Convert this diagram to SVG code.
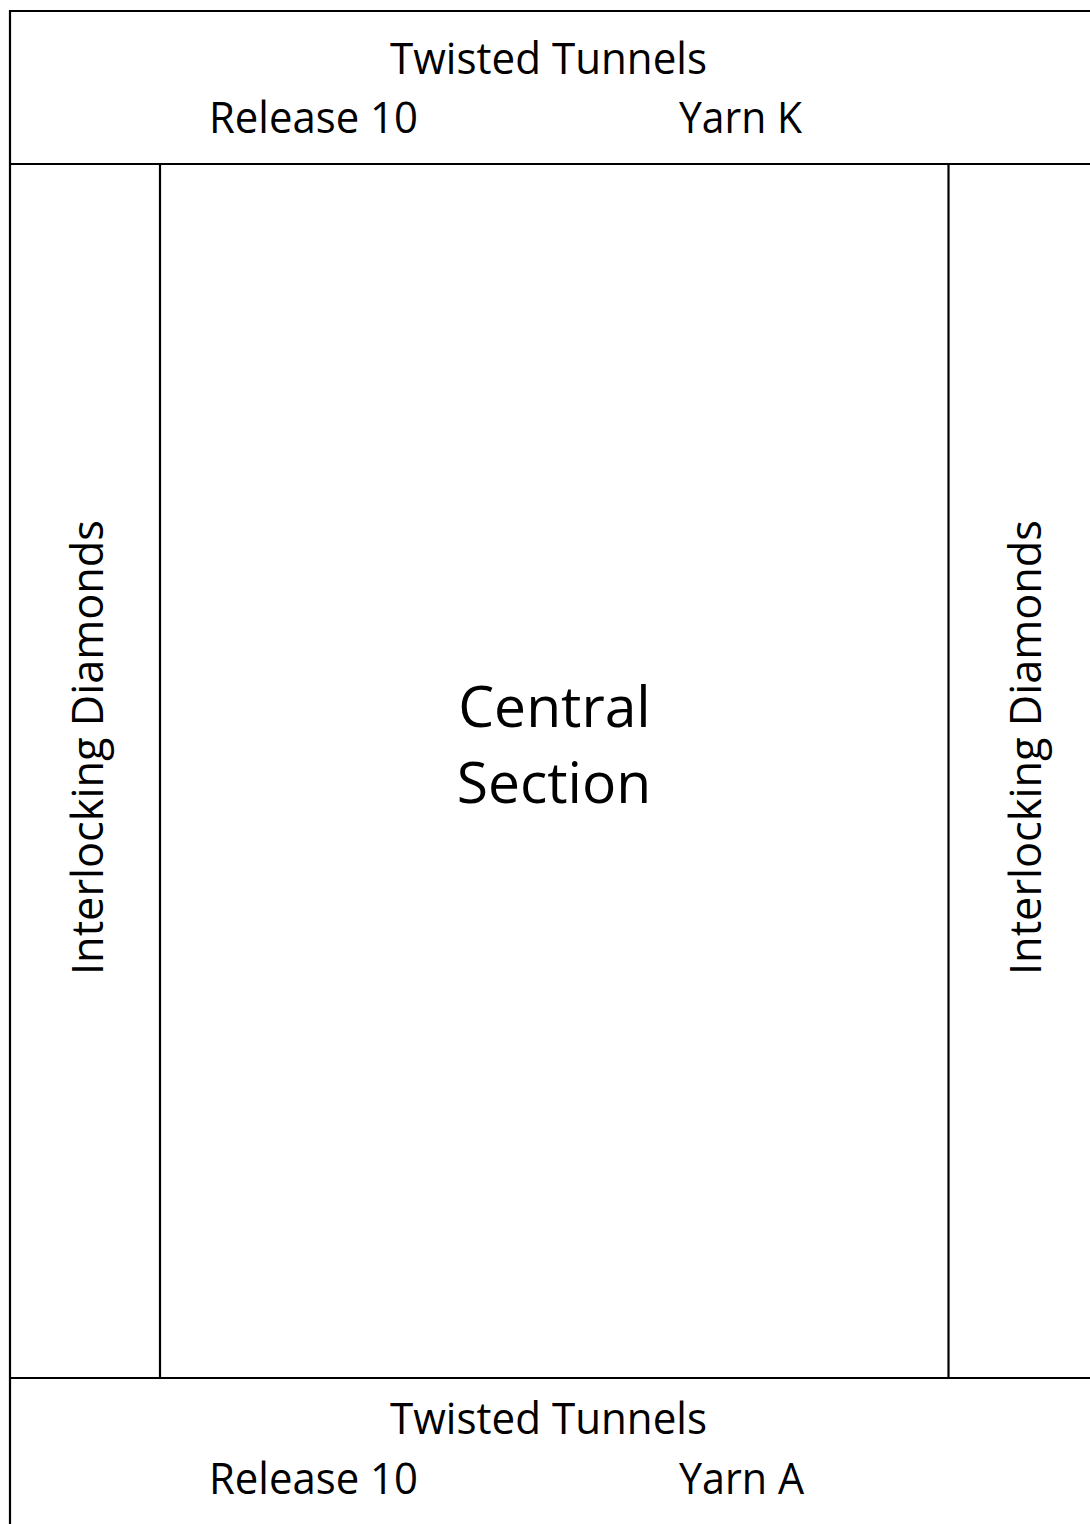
<svg xmlns="http://www.w3.org/2000/svg" width="1090" height="1524" viewBox="0 0 1090 1524">
<style>
.ln{stroke:#000;stroke-width:2.2;fill:none}
.t{font-family:"Open Sans","Noto Sans",sans-serif;font-size:43px;fill:#000}
.c{font-family:"Open Sans","Noto Sans",sans-serif;font-size:57px;fill:#000;text-anchor:middle}
</style>
<rect width="1090" height="1524" fill="#fff"/>
<g id="frame">
<path class="ln" d="M1100,11 H10 V1534"/>
<path class="ln" d="M10,164 H1100 M10,1378 H1100 M160,164 V1378 M948.5,164 V1378"/>
</g>
<g id="top">
<text class="t" x="390" y="74" textLength="317" lengthAdjust="spacingAndGlyphs">Twisted Tunnels</text>
<text class="t" x="209" y="133" textLength="209" lengthAdjust="spacingAndGlyphs">Release 10</text>
<text class="t" x="679" y="133" textLength="123" lengthAdjust="spacingAndGlyphs">Yarn K</text>
</g>
<g id="bottom">
<text class="t" x="390" y="1434" textLength="317" lengthAdjust="spacingAndGlyphs">Twisted Tunnels</text>
<text class="t" x="209" y="1494" textLength="209" lengthAdjust="spacingAndGlyphs">Release 10</text>
<text class="t" x="679" y="1494" textLength="125" lengthAdjust="spacingAndGlyphs">Yarn A</text>
</g>
<g id="left">
<text class="t" transform="translate(103,975) rotate(-90)" textLength="455" lengthAdjust="spacingAndGlyphs">Interlocking Diamonds</text>
</g>
<g id="right">
<text class="t" transform="translate(1041,975) rotate(-90)" textLength="455" lengthAdjust="spacingAndGlyphs">Interlocking Diamonds</text>
</g>
<g id="center">
<text class="c" x="554.5" y="727">Central</text>
<text class="c" x="554" y="803">Section</text>
</g>
</svg>
